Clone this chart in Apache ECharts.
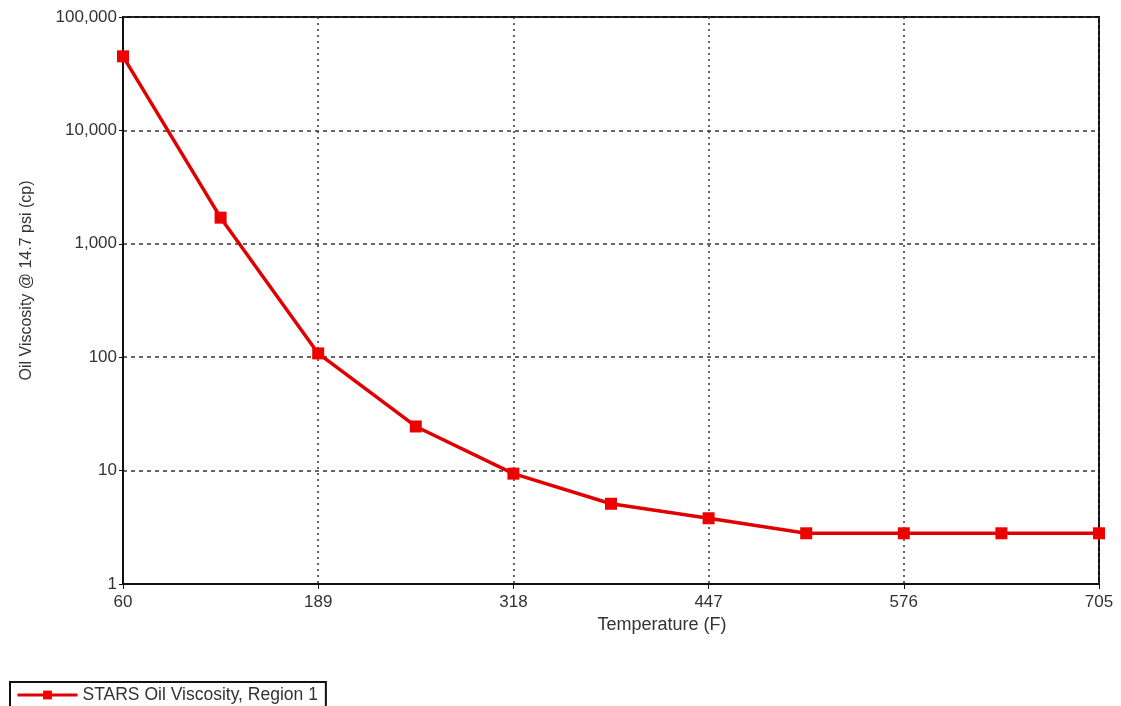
<!DOCTYPE html>
<html>
<head>
<meta charset="utf-8">
<script src="https://cdn.jsdelivr.net/npm/echarts@6/dist/echarts.min.js"></script>
<style>
  html, body { margin: 0; padding: 0; background: #fff; }
  #chart { width: 1121px; height: 706px; }
</style>
</head>
<body>
<div id="chart"></div>
<script>
'use strict';
// temperature (F) at each sample
var temps = ['60', '124.5', '189', '253.5', '318', '382.5', '447', '511.5', '576', '640.5', '705'];
// oil viscosity (cp)
var viscosity = [45000, 1700, 108, 24.5, 9.4, 5.1, 3.8, 2.8, 2.8, 2.8, 2.8];
var yTicks = [1, 10, 100, 1000, 10000, 100000];
var seriesName = 'STARS Oil Viscosity, Region 1';

var chart = echarts.init(document.getElementById('chart'));

var fontFamily = 'Liberation Sans, Arial, sans-serif';
var labelFont = { color: '#333', fontFamily: fontFamily, fontSize: 17 };

var options = {
	animation: false,
	grid: {
		left: 123, right: 22, top: 17, bottom: 122,
		show: true,
		borderColor: '#111',
		borderWidth: 2
	},
	legend: {
		left: 10,
		top: 682,
		data: [seriesName],
		padding: [4, 8, 6, 6],
		borderColor: '#111',
		borderWidth: 2,
		borderRadius: 0,
		itemWidth: 60,
		itemHeight: 11,
		itemGap: 6,
		lineStyle: { width: 3 },
		textStyle: { color: '#333', fontFamily: fontFamily, fontSize: 17.5 }
	},
	xAxis: {
		type: 'category',
		data: temps,
		boundaryGap: false,
		name: 'Temperature (F)',
		nameLocation: 'middle',
		nameGap: 29,
		nameTextStyle: { color: '#333', fontFamily: fontFamily, fontSize: 18, padding: [0, 0, 0, 102] },
		axisLine: { lineStyle: { color: '#111', width: 2 } },
		axisTick: { interval: 1, length: 5, lineStyle: { color: '#111' } },
		axisLabel: Object.assign({ interval: 1, margin: 10 }, labelFont),
		splitLine: {
			show: true,
			interval: 1,
			lineStyle: { color: '#333', type: [2, 4], width: 1.5 }
		}
	},
	yAxis: {
		type: 'log',
		logBase: 10,
		min: yTicks[0],
		max: yTicks[yTicks.length - 1],
		name: 'Oil Viscosity @ 14.7 psi (cp)',
		nameLocation: 'middle',
		nameGap: 88,
		nameTextStyle: { color: '#333', fontFamily: fontFamily, fontSize: 16, padding: [0, 0, 0, 40] },
		axisLine: { show: true, lineStyle: { color: '#111', width: 2 } },
		axisTick: { show: true, length: 4, lineStyle: { color: '#111' } },
		axisLabel: Object.assign({
			margin: 6,
			formatter: function (v) { return Math.round(v).toLocaleString('en-US'); }
		}, labelFont),
		splitLine: {
			show: true,
			lineStyle: { color: '#333', type: [4, 4], width: 1.5 }
		},
		minorTick: { show: false }
	},
	series: [
		{
			name: seriesName,
			type: 'line',
			data: viscosity,
			symbol: 'rect',
			symbolSize: 12,
			lineStyle: { color: '#e00000', width: 3.5 },
			itemStyle: { color: '#ee0000' }
		}
	]
};

chart.setOption(options);
</script>
</body>
</html>
